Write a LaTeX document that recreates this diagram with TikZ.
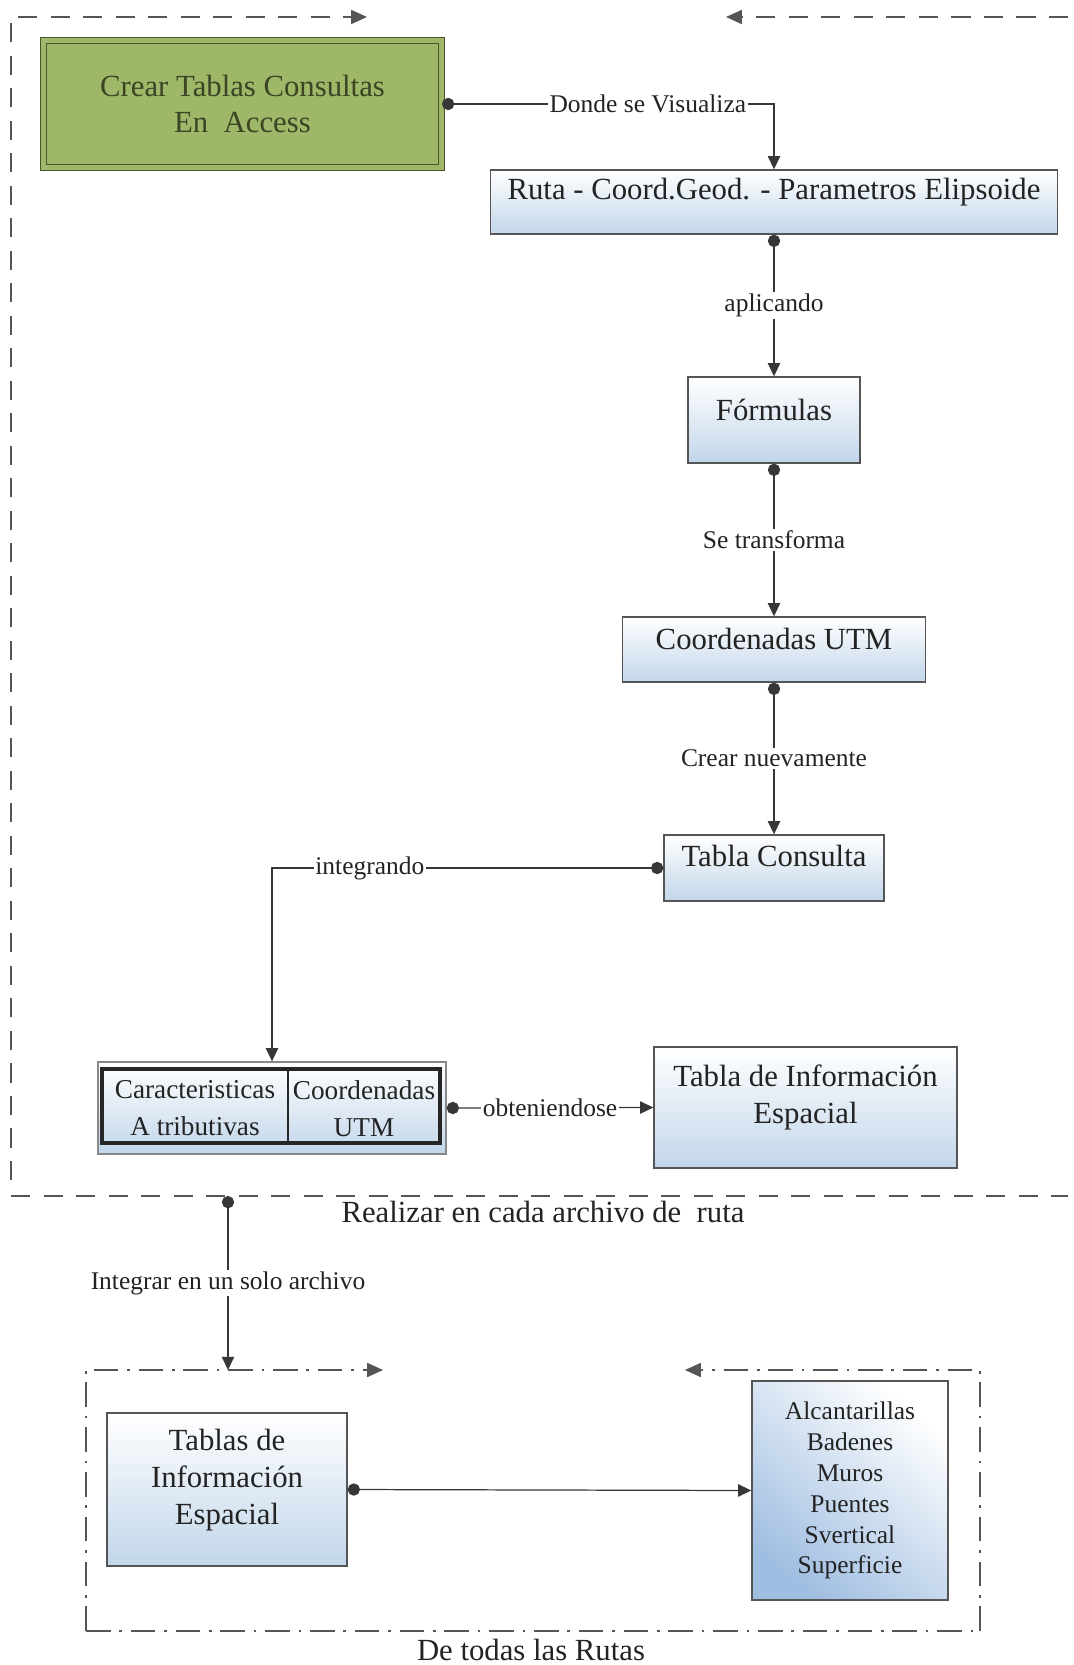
\documentclass[tikz,border=0pt]{standalone}
\usepackage{fontspec}
\setmainfont{Liberation Serif}
\usetikzlibrary{arrows.meta}
\definecolor{boxblue}{RGB}{194,214,234}
\definecolor{deepblue}{RGB}{160,190,225}
\definecolor{boxedge}{RGB}{85,85,85}
\definecolor{linegray}{RGB}{55,55,55}
\definecolor{accessgreen}{RGB}{158,183,104}
\definecolor{accessedge}{RGB}{75,85,45}
\definecolor{textgray}{RGB}{35,35,35}
\newcommand\bigtxt{\fontsize{17.5}{21}\selectfont}
\newcommand\smalltxt{\fontsize{14.5}{17.5}\selectfont}
\begin{document}
\begin{tikzpicture}[x=0.02cm, y=-0.02cm, >={Triangle[length=7.5pt,width=7pt]},
  box/.style={draw=boxedge, line width=0.8pt, top color=white, bottom color=boxblue, inner sep=0pt},
  txt/.style={text=textgray, font=\bigtxt, align=center, inner sep=1pt},
  lbl/.style={fill=white, text=textgray, font=\smalltxt, inner sep=1pt},
  conn/.style={draw=linegray, line width=0.7pt, {Circle[length=7pt]}->},
  frameline/.style={draw=boxedge, line width=0.8pt, dash pattern=on 11pt off 7.5pt, -{Triangle[length=9pt,width=8pt]}},
  frameline2/.style={draw=boxedge, line width=0.8pt, dash pattern=on 14pt off 5pt on 1.5pt off 5pt, -{Triangle[length=9pt,width=8pt]}}]
\useasboundingbox (0,0) rectangle (1073,1665);

% frame round the work on each route
\draw[frameline] (11,1180) -- (11,17) -- (367,17);
\draw[frameline] (1068,17) -- (726,17);
\draw[frameline, -] (11,1196) -- (1068,1196);
\node[txt] (realizar) at (543,1212) {Realizar en cada archivo de\ \ ruta};

% frame round all the routes
\draw[frameline2] (86,1631) -- (86,1370) -- (383,1370);
\draw[frameline2] (980,1631) -- (980,1370) -- (685,1370);
\draw[frameline2, -] (86,1631) -- (980,1631);
\node[txt] (todas) at (531,1650) {De todas las Rutas};

% boxes
\node[draw=accessedge, line width=0.6pt, double=accessgreen, double distance=2.5pt, fill=accessgreen,
      minimum width=7.96cm, minimum height=2.54cm, text=accessedge!80!black, font=\bigtxt, align=center]
      (crear) at (242.5,104) {Crear Tablas Consultas\\En\ \ Access};
\node[box, minimum width=11.34cm, minimum height=1.28cm] (ruta) at (774,202) {};
\node[txt] (rutaT) at ([yshift=0.2cm]ruta.center) {Ruta - Coord.Geod. - Parametros Elipsoide};
\node[box, minimum width=3.44cm, minimum height=1.72cm] (form) at (774,420) {};
\node[txt] (formT) at ([yshift=0.2cm]form.center) {Fórmulas};
\node[box, minimum width=6.06cm, minimum height=1.3cm] (utm) at (774,649.5) {};
\node[txt] (utmT) at ([yshift=0.22cm]utm.center) {Coordenadas UTM};
\node[box, minimum width=4.4cm, minimum height=1.32cm] (tc) at (774,868) {};
\node[txt] (tcT) at ([yshift=0.24cm]tc.center) {Tabla Consulta};

% table with the two columns
\node[box, draw=boxedge!70, minimum width=6.96cm, minimum height=1.84cm] (tab) at (272,1108) {};
\draw[line width=2.2pt, black!85] (102,1069) rectangle (440,1143);
\draw[line width=1.6pt, black!85] (288,1069) -- (288,1143);
\node[txt, font=\fontsize{15.5}{21}\selectfont] (tabA) at (195,1108.5) {Caracteristicas\\A\ tributivas};
\node[txt, font=\fontsize{15.5}{21}\selectfont] (tabB) at (364,1108.5) {Coordenadas\\UTM};

\node[box, minimum width=6.06cm, minimum height=2.42cm] (info) at (805.5,1107.5) {};
\node[txt] (infoT) at ([yshift=0.2cm]info.center) {Tabla de Información\\Espacial};

\node[box, minimum width=4.8cm, minimum height=3.06cm] (tablas) at (227,1489.5) {};
\node[txt, font=\fontsize{17.5}{21.2}\selectfont] (tablasT) at ([yshift=0.19cm]tablas.center) {Tablas de\\Información\\Espacial};
\node[draw=boxedge, line width=0.8pt, shading=axis, top color=white, bottom color=deepblue, shading angle=-40,
      minimum width=3.92cm, minimum height=4.38cm, inner sep=0pt] (obras) at (850,1490.5) {};
\node[txt, font=\fontsize{14.5}{17.6}\selectfont] (obrasT) at (obras.center) {Alcantarillas\\Badenes\\Muros\\Puentes\\Svertical\\Superficie};

% connectors
\draw[conn] (crear.east) -- node[lbl, pos=0.62] {Donde se Visualiza} (crear.east -| ruta.north) -- (ruta.north);
\draw[conn] (ruta.south) -- node[lbl] {aplicando} (form.north);
\draw[conn] (form.south) -- node[lbl] {Se transforma} (utm.north);
\draw[conn] (utm.south) -- node[lbl] {Crear nuevamente} (tc.north);
\draw[conn] (tc.west) -- node[lbl, pos=0.75] {integrando} (tc.west -| tab.north) -- (tab.north);
\draw[conn] (tab.east) -- node[lbl] {obteniendose} (info.west);
\coordinate (split) at (228,1196);
\coordinate (entry) at (228,1370);
\draw[conn] (split) -- node[lbl] {Integrar en un solo archivo} (entry);
\draw[conn] (tablas.east) -- (obras.west);
\end{tikzpicture}
\end{document}
